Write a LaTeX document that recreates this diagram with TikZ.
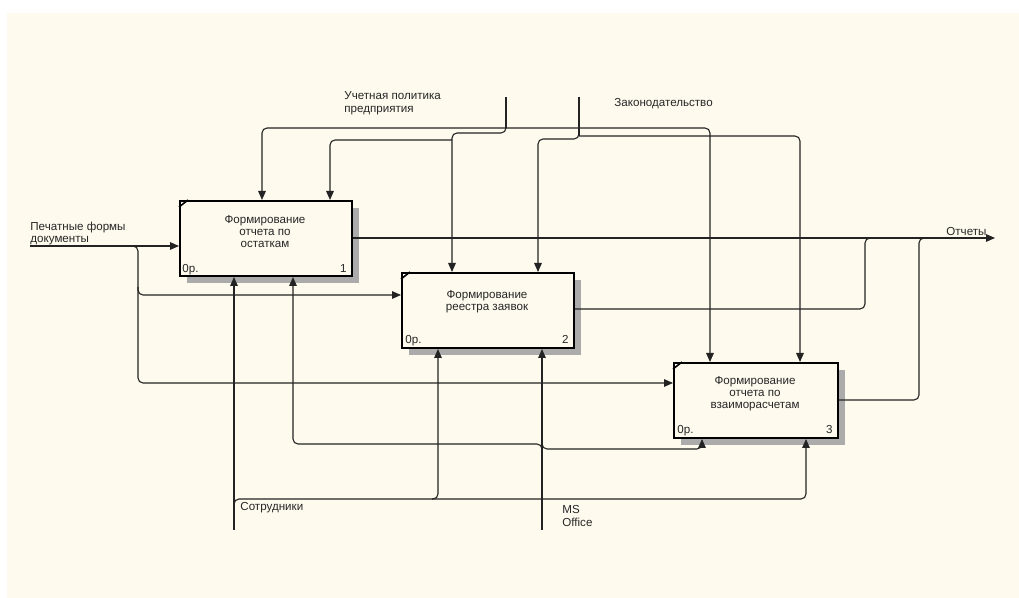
\documentclass[tikz,border=0pt]{standalone}
\usepackage{fontspec}
\setmainfont{Liberation Sans}
\usetikzlibrary{arrows.meta}
\definecolor{bg}{RGB}{254,250,238}
\definecolor{lncol}{RGB}{35,35,35}
\begin{document}
\begin{tikzpicture}[x=0.5pt,y=-0.5pt,
  box/.style={draw=black, line width=1pt, fill=bg, anchor=north west, inner sep=0pt, minimum height=37.5pt},
  shadowfill/.style={fill=black!33, draw=none},
  lbl/.style={font=\fontsize{5.8}{6.4}\selectfont, inner sep=0pt, align=left, text=black!85},
  btxt/.style={font=\fontsize{5.8}{6}\selectfont, inner sep=0pt, align=center, text=black!85},
  ln/.style={draw=lncol, line width=0.55pt, rounded corners=2.5pt},
  arr/.style={ln, -{Triangle[length=4.5pt,width=3.8pt]}},
  arrtwo/.style={ln, {Triangle[length=4.5pt,width=3.8pt]}-{Triangle[length=4.5pt,width=3.8pt]}},
]
\useasboundingbox (0,0) rectangle (1019,598);
\fill[white] (0,0) rectangle (1019,598);
\fill[bg] (7,13) rectangle (1019,598);

% shadows
\fill[shadowfill] (187,208) rectangle (359,283);
\fill[shadowfill] (409,280) rectangle (581,355);
\fill[shadowfill] (681,370) rectangle (845,445);

% boxes
\node[box, minimum width=86pt] (b1) at (179,200) {};
\node[box, minimum width=86pt] (b2) at (401,272) {};
\node[box, minimum width=82pt] (b3) at (673,362) {};
\foreach \b in {b1,b2,b3}{
  \draw[line width=0.8pt] ([yshift=-3.5pt]\b.north west) -- ([xshift=4.5pt]\b.north west);
}

% box texts
\node[btxt] (t1) at (265,232) {Формирование\\отчета по\\остаткам};
\node[btxt] (t2) at (487,302) {Формирование\\реестра заявок};
\node[btxt] (t3) at (755,393.5) {Формирование\\отчета по\\взаиморасчетам};
\node[btxt, anchor=base west] (c1) at (182,272.5) {0р.};
\node[btxt, anchor=base east] (n1) at (347,272.5) {1};
\node[btxt, anchor=base west] (c2) at (405,343.5) {0р.};
\node[btxt, anchor=base east] (n2) at (569,343.5) {2};
\node[btxt, anchor=base west] (c3) at (677,433.5) {0р.};
\node[btxt, anchor=base east] (n3) at (833,433.5) {3};

% input
\coordinate (in) at (30,246);
\coordinate (j1) at (138,383);
\coordinate (j2) at (138,295);
\draw[arr] (in) -- (in -| b1.west);
\draw[arr] (130,246) -| (j1) -- (j1 -| b3.west);
\draw[arr] (138,287) |- (j2 -| b2.west);

% outputs
\coordinate (out) at (995,238);
\draw[arr] (out -| b1.east) -- (out);
\coordinate (o2) at (865,309);
\draw[ln] (o2 -| b2.east) -- (o2) -- (865,238) -- (875,238);
\coordinate (o3) at (919,400);
\draw[ln] (o3 -| b3.east) -- (o3) -- (919,238) -- (929,238);

% controls
\coordinate (ctl1) at (506,97);
\coordinate (ctl2) at (579,97);
\draw[ln] (ctl1) -- (506,128);
\coordinate (k262) at (262,128);
\coordinate (k710) at (710,128);
\draw[arrtwo] (k262 |- b1.north) -- (k262) -- (k710) -- (k710 |- b3.north);
\coordinate (k452) at (452,133);
\draw[arr] (506,125) |- (k452) -- (k452 |- b2.north);
\coordinate (k330) at (330,140);
\draw[arr] (452,140) -- (k330) -- (k330 |- b1.north);
\draw[ln] (ctl2) -- (579,136);
\coordinate (k800) at (800,136);
\draw[arr] (579,136) -- (k800) -- (k800 |- b3.north);
\coordinate (k538) at (538,139);
\draw[arr] (579,132) |- (k538) -- (k538 |- b2.north);

% mechanisms
\coordinate (m1) at (234,530);
\coordinate (m2) at (542,530);
\draw[arr] (m1) -- (m1 |- b1.south);
\draw[arr] (m2) -- (m2 |- b2.south);
\coordinate (k806) at (806,499);
\draw[arr] (234,505) |- (k806) -- (k806 |- b3.south);
\coordinate (k438) at (438,499);
\draw[arr] (432,499) -- (k438) -- (k438 |- b2.south);
\coordinate (k293) at (293,444);
\draw[arr] (542,452) |- (k293) -- (k293 |- b1.south);
\coordinate (k702) at (702,449);
\draw[arr] (542,441) |- (k702) -- (k702 |- b3.south);

% labels
\node[lbl, anchor=west] (lin) at (30,233.5) {Печатные формы\\документы};
\node[lbl, anchor=west] (lc1) at (344,103.5) {Учетная политика\\предприятия};
\node[lbl, anchor=west] (lc2) at (614,104) {Законодательство};
\node[lbl, anchor=west] (lout) at (946,232) {Отчеты};
\node[lbl, anchor=west] (lm1) at (240,508) {Сотрудники};
\node[lbl, anchor=west] (lm2) at (562,516) {MS\\Office};
\end{tikzpicture}
\end{document}
